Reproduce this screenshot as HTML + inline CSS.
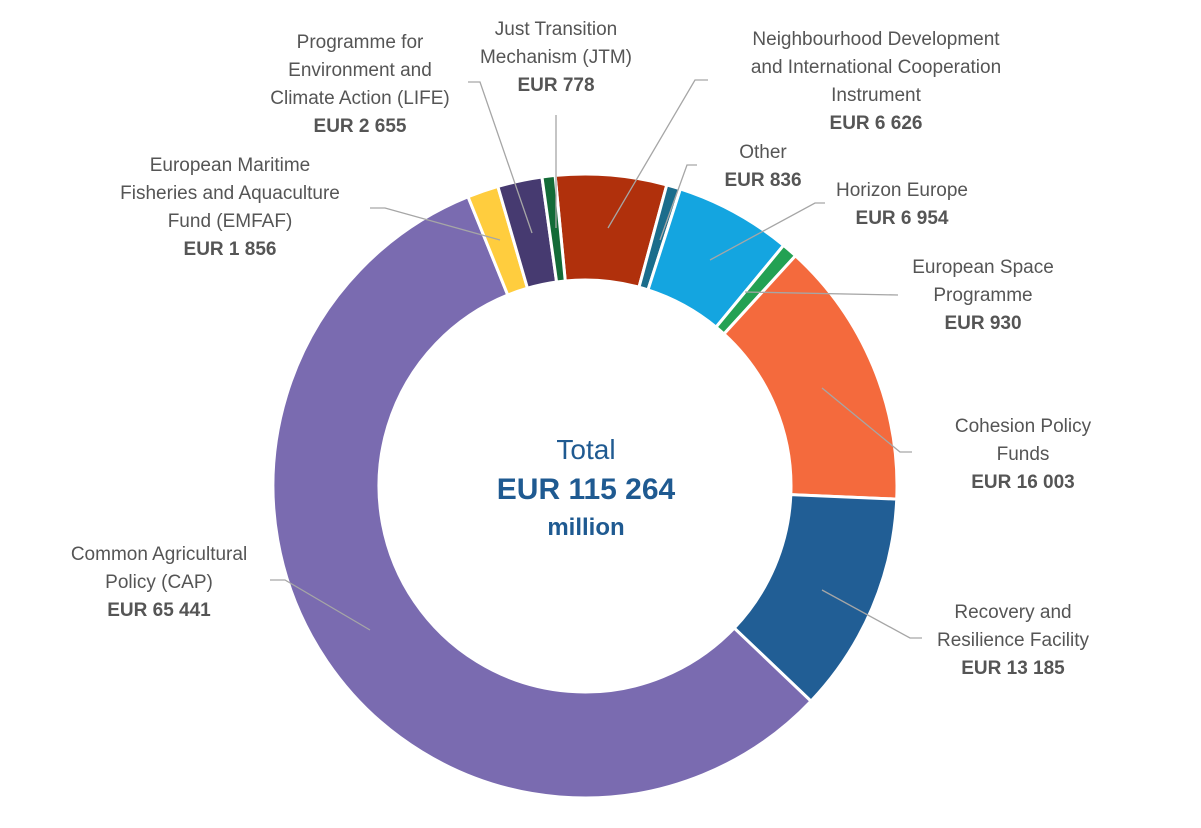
<!DOCTYPE html>
<html><head><meta charset="utf-8">
<style>
body{margin:0;background:#fff;}
svg{display:block;font-family:"Liberation Sans","DejaVu Sans",sans-serif;}
.lbl{fill:#555;font-size:19px;}
.val{fill:#555;font-size:19px;font-weight:bold;}
</style></head>
<body>
<svg id="chart" width="1201" height="828" viewBox="0 0 1201 828" xmlns="http://www.w3.org/2000/svg">
<g id="slices"></g>
<g id="leaders"></g>
<g id="labels"></g>
<text x="586" y="459" text-anchor="middle" fill="#1f5a91" font-size="28">Total</text>
<text x="586" y="499" text-anchor="middle" fill="#1f5a91" font-size="30" font-weight="bold">EUR 115 264</text>
<text x="586" y="535" text-anchor="middle" fill="#1f5a91" font-size="24" font-weight="bold">million</text>
</svg>
<script>
const categories = ["Neighbourhood Development and International Cooperation Instrument","Other","Horizon Europe","European Space Programme","Cohesion Policy Funds","Recovery and Resilience Facility","Common Agricultural Policy (CAP)","European Maritime Fisheries and Aquaculture Fund (EMFAF)","Programme for Environment and Climate Action (LIFE)","Just Transition Mechanism (JTM)"];
const values = [6626, 836, 6954, 930, 16003, 13185, 65441, 1856, 2655, 778];
const valueLabels = ["EUR 6 626","EUR 836","EUR 6 954","EUR 930","EUR 16 003","EUR 13 185","EUR 65 441","EUR 1 856","EUR 2 655","EUR 778"];
const colors = ["#b0300c","#1b6d8c","#14a5e0","#23a153","#f46a3d","#215e95","#7a6bb0","#ffcd3e","#463a70","#136b37"];

const cx=585, cy=486, R=312, r=206, startDeg=-5.5;
const NS="http://www.w3.org/2000/svg";
const total=values.reduce((a,b)=>a+b,0);
function pt(rad,deg){const a=(deg-90)*Math.PI/180;return [cx+rad*Math.cos(a),cy+rad*Math.sin(a)];}
const gS=document.getElementById('slices');
let acc=0;
values.forEach((v,i)=>{
  const a0=startDeg+acc/total*360; acc+=v; const a1=startDeg+acc/total*360;
  const large=(a1-a0)>180?1:0;
  const p0=pt(R,a0),p1=pt(R,a1),q1=pt(r,a1),q0=pt(r,a0);
  const p=document.createElementNS(NS,'path');
  p.setAttribute('d',`M${p0[0]},${p0[1]}A${R},${R} 0 ${large} 1 ${p1[0]},${p1[1]}L${q1[0]},${q1[1]}A${r},${r} 0 ${large} 0 ${q0[0]},${q0[1]}Z`);
  p.setAttribute('fill',colors[i]);p.setAttribute('stroke','#fff');p.setAttribute('stroke-width','3');
  
  
  gS.appendChild(p);
});

// label layout (name lines, anchor position, leader polyline)
const layout=[
 {lines:["Neighbourhood Development","and International Cooperation","Instrument"],x:876,y:45,leader:"608,228 695,80 708,80"},
 {lines:["Other"],x:763,y:158,leader:"660,240 687,165 697,165"},
 {lines:["Horizon Europe"],x:902,y:196,leader:"710,260 815,203 825,203"},
 {lines:["European Space","Programme"],x:983,y:273,leader:"745,292 898,295"},
 {lines:["Cohesion Policy","Funds"],x:1023,y:432,leader:"822,388 900,452 912,452"},
 {lines:["Recovery and","Resilience Facility"],x:1013,y:618,leader:"822,590 910,638 922,638"},
 {lines:["Common Agricultural","Policy (CAP)"],x:159,y:560,leader:"370,630 285,580 270,580"},
 {lines:["European Maritime","Fisheries and Aquaculture","Fund (EMFAF)"],x:230,y:171,leader:"500,240 385,208 370,208"},
 {lines:["Programme for","Environment and","Climate Action (LIFE)"],x:360,y:48,leader:"532,233 480,82 468,82"},
 {lines:["Just Transition","Mechanism (JTM)"],x:556,y:35,leader:"556,228 556,115"}
];
const gL=document.getElementById('leaders'),gT=document.getElementById('labels');
layout.forEach((L,i)=>{
  const pl=document.createElementNS(NS,'polyline');
  pl.setAttribute('points',L.leader);pl.setAttribute('fill','none');pl.setAttribute('stroke','#a6a6a6');pl.setAttribute('stroke-width','1.3');
  
  
  gL.appendChild(pl);
  const t=document.createElementNS(NS,'text');
  t.setAttribute('text-anchor','middle');
  
  
  L.lines.forEach((ln,k)=>{
    const s=document.createElementNS(NS,'tspan');
    s.setAttribute('x',L.x);s.setAttribute('y',L.y+k*28);s.setAttribute('class','lbl');s.textContent=ln;t.appendChild(s);
  });
  const s=document.createElementNS(NS,'tspan');
  s.setAttribute('x',L.x);s.setAttribute('y',L.y+L.lines.length*28);s.setAttribute('class','val');s.textContent=valueLabels[i];t.appendChild(s);
  gT.appendChild(t);
});
</script>
</body></html>
